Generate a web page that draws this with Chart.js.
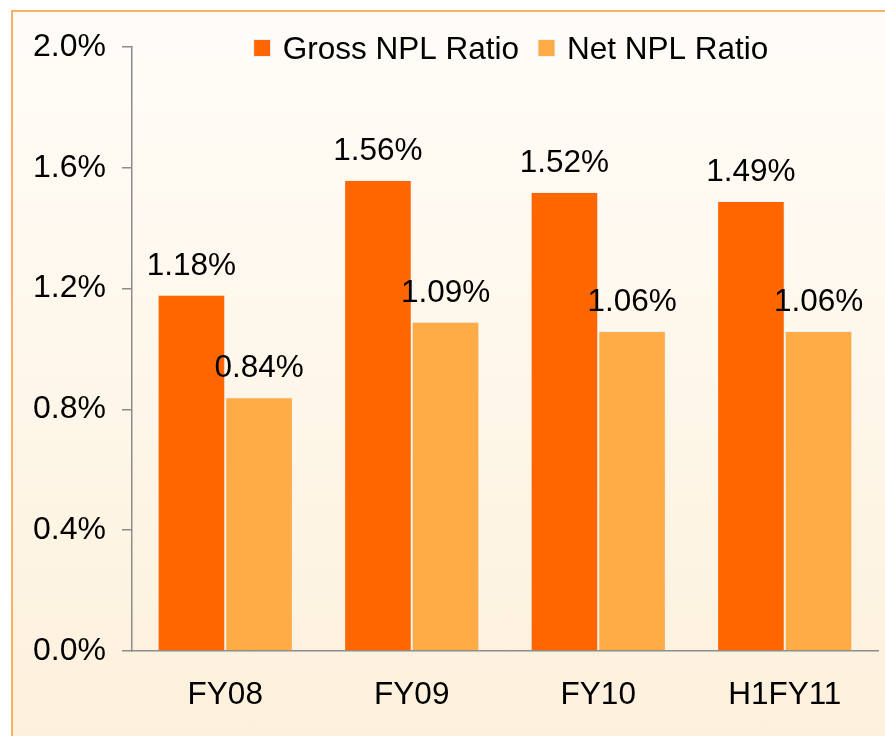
<!DOCTYPE html>
<html>
<head>
<meta charset="utf-8">
<script src="https://cdn.jsdelivr.net/npm/chart.js@4/dist/chart.umd.min.js"></script>
<style>
  html, body { margin: 0; padding: 0; width: 885px; height: 736px; overflow: hidden; background: #ffffff; }
  .frame {
    position: absolute; left: 11px; top: 10px; width: 900px; height: 800px;
    border: 2px solid #f9b062;
    background: linear-gradient(to bottom, #fffcf8 0%, #fef7ea 45%, #fdefd9 100%);
  }
  #wrap { position: absolute; left: 0; top: 0; width: 885px; height: 736px; }
</style>
</head>
<body>
<div class="frame"></div>
<div id="wrap"><canvas id="nplChart" width="885" height="736"></canvas></div>
<script>
// 数据
const categories = ['FY08', 'FY09', 'FY10', 'H1FY11'];
const grossNpl = [1.18, 1.56, 1.52, 1.49];
const netNpl = [0.84, 1.09, 1.06, 1.06];
const yTicks = [0.0, 0.4, 0.8, 1.2, 1.6, 2.0];

const FONT = '"Liberation Sans", Arial, sans-serif';

// 柱顶数值
const valueLabels = {
    id: 'valueLabels',
    afterDatasetsDraw(chart) {
        const ctx = chart.ctx;
        ctx.save();
        ctx.font = '31.5px ' + FONT;
        ctx.fillStyle = '#000';
        ctx.textAlign = 'center';
        ctx.textBaseline = 'alphabetic';
        chart.data.datasets.forEach((ds, i) => {
            chart.getDatasetMeta(i).data.forEach((bar, j) => {
                ctx.fillText(ds.data[j].toFixed(2) + '%', bar.x, bar.y - 20);
            });
        });
        ctx.restore();
    }
};

// 图例画在绘图区顶部
const topLegend = {
    id: 'topLegend',
    afterDraw(chart) {
        const ctx = chart.ctx;
        ctx.save();
        ctx.font = '31.5px ' + FONT;
        ctx.textBaseline = 'middle';
        ctx.textAlign = 'left';
        const box = 17, gapBox = 12, gapItem = 19;
        const items = chart.data.datasets.map(ds => ({ text: ds.label, color: ds.backgroundColor }));
        const widths = items.map(it => box + gapBox + ctx.measureText(it.text).width);
        const total = widths.reduce((a, b) => a + b, 0) + gapItem * (items.length - 1);
        let x = (chart.chartArea.left + chart.chartArea.right) / 2 - total / 2 + 6;
        const y = 48;
        items.forEach((it, i) => {
            ctx.fillStyle = it.color;
            ctx.fillRect(x, y - box / 2, box, box);
            ctx.strokeStyle = '#eef2f6';
            ctx.lineWidth = 1;
            ctx.strokeRect(x, y - box / 2, box, box);
            ctx.fillStyle = '#000';
            ctx.fillText(it.text, x + box + gapBox, y + 2);
            x += widths[i] + gapItem;
        });
        ctx.restore();
    }
};

new Chart(document.getElementById('nplChart').getContext('2d'), {
    type: 'bar',
    data: {
        labels: categories,
        datasets: [
            { label: 'Gross NPL Ratio', data: grossNpl, backgroundColor: '#ff6600', borderColor: '#eef2f6', borderWidth: 1 },
            { label: 'Net NPL Ratio', data: netNpl, backgroundColor: '#ffab46', borderColor: '#eef2f6', borderWidth: 1 }
        ]
    },
    options: {
        responsive: false,
        animation: false,
        layout: { padding: { top: 47, right: 7, left: 0, bottom: 0 } },
        categoryPercentage: 0.725,
        barPercentage: 1.0,
        plugins: {
            legend: { display: false },
            tooltip: { enabled: false }
        },
        scales: {
            x: {
                grid: { display: false, drawTicks: false },
                border: { display: true, color: '#8c8c8c', width: 1.5 },
                ticks: { color: '#000', font: { family: FONT, size: 31.5 }, padding: 25 },
                afterFit: s => { s.height = 85; }
            },
            y: {
                min: 0,
                max: 2.0,
                afterBuildTicks: s => { s.ticks = yTicks.map(v => ({ value: v })); },
                grid: { drawOnChartArea: false, drawTicks: true, tickLength: 10, color: '#8c8c8c', lineWidth: 1.5 },
                border: { display: true, color: '#8c8c8c', width: 1.5 },
                ticks: {
                    color: '#000',
                    font: { family: FONT, size: 32 },
                    padding: 16,
                    callback: v => v.toFixed(1) + '%'
                },
                afterFit: s => { s.width = 132; }
            }
        }
    },
    plugins: [valueLabels, topLegend]
});
</script>
</body>
</html>
